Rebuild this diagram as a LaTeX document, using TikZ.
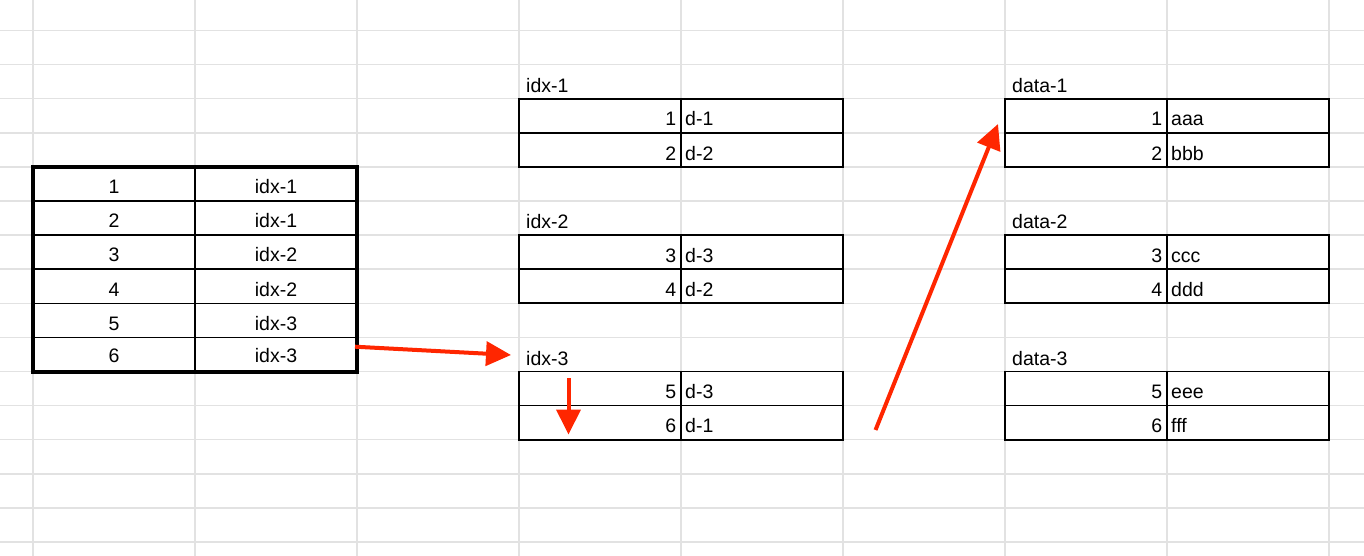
\documentclass[tikz,border=0pt]{standalone}
\usepackage{fontspec}
\setmainfont{Liberation Sans}
\usetikzlibrary{arrows.meta}
\definecolor{gridgray}{RGB}{226,226,226}
\definecolor{arrowred}{RGB}{255,38,0}
\newcommand\mytab[8]{%
  % #1 x0, #2 top y of table, #3 name, #4 label, #5 n1, #6 v1, #7 n2, #8 v2
  \node[txt,anchor=base west] (#3-lab) at ({#1+7},{#2-6.3}) {#4};
  \draw[tabline] (#1,#2) rectangle ({#1+324},{#2+68.2});
  \draw[tabline] (#1,{#2+34.1}) -- ({#1+324},{#2+34.1});
  \draw[tabline] ({#1+162},#2) -- ({#1+162},{#2+68.2});
  \node[txt,anchor=base east] (#3-n1) at ({#1+157.5},{#2+34.1-6.8}) {#5};
  \node[txt,anchor=base west] (#3-v1) at ({#1+166},{#2+34.1-6.8}) {#6};
  \node[txt,anchor=base east] (#3-n2) at ({#1+157.5},{#2+68.2-6.8}) {#7};
  \node[txt,anchor=base west] (#3-v2) at ({#1+166},{#2+68.2-6.8}) {#8};
}
\begin{document}
\begin{tikzpicture}[x=1pt,y=-1pt,
  gridline/.style={draw=gridgray,line width=1.5pt},
  tabline/.style={draw=black,line width=1.7pt},
  thinline/.style={draw=black,line width=1.5pt},
  thickframe/.style={draw=black,line width=4pt},
  txt/.style={inner sep=0pt,font=\fontsize{19.5}{20}\selectfont},
  redarrow/.style={draw=arrowred,line width=4pt,-{Triangle[length=25pt,width=24pt]}},
]
\fill[white] (0,0) rectangle (1364,556);
\useasboundingbox (0,0) rectangle (1364,556);
% spreadsheet grid
\foreach \x in {33,195,...,1329} \draw[gridline] (\x,0) -- (\x,556);
\foreach \k in {0,...,15} \draw[gridline] (0,{30.5+34.1*\k}) -- (1364,{30.5+34.1*\k});
% left table
\foreach \i/\lab in {1/idx-1,2/idx-1,3/idx-2,4/idx-2,5/idx-3,6/idx-3}{
  \pgfmathsetmacro\yb{166.9+34.1*\i}
  \pgfmathsetmacro\off{ifthenelse(\i==6,9.5,7.3)}
  \node[txt,anchor=base] (l\i a) at (114,{\yb-\off}) {\i};
  \node[txt,anchor=base] (l\i b) at (276,{\yb-\off}) {\lab};
}
\foreach \i in {1,...,5} \draw[thinline] (33,{166.9+34.1*\i}) -- (357,{166.9+34.1*\i});
\draw[thinline] (195,166.9) -- (195,371.5);
\draw[thickframe] (33,166.9) rectangle (357,371.5);
% middle tables
\mytab{519}{98.7}{idxA}{idx-1}{1}{d-1}{2}{d-2}
\mytab{519}{235.1}{idxB}{idx-2}{3}{d-3}{4}{d-2}
\mytab{519}{371.5}{idxC}{idx-3}{5}{d-3}{6}{d-1}
% right tables
\mytab{1005}{98.7}{datA}{data-1}{1}{aaa}{2}{bbb}
\mytab{1005}{235.1}{datB}{data-2}{3}{ccc}{4}{ddd}
\mytab{1005}{371.5}{datC}{data-3}{5}{eee}{6}{fff}
% arrows
\coordinate (a1s) at (355,346.7);
\coordinate (a1e) at (511,355);
\coordinate (a2s) at (568.5,378);
\coordinate (a2e) at (568.5,434.5);
\coordinate (a3s) at (875.5,430);
\coordinate (a3e) at (998,124);
\draw[redarrow] (a1s) -- (a1e);
\draw[redarrow] (a2s) -- (a2e);
\draw[redarrow] (a3s) -- (a3e);
\end{tikzpicture}
\end{document}
